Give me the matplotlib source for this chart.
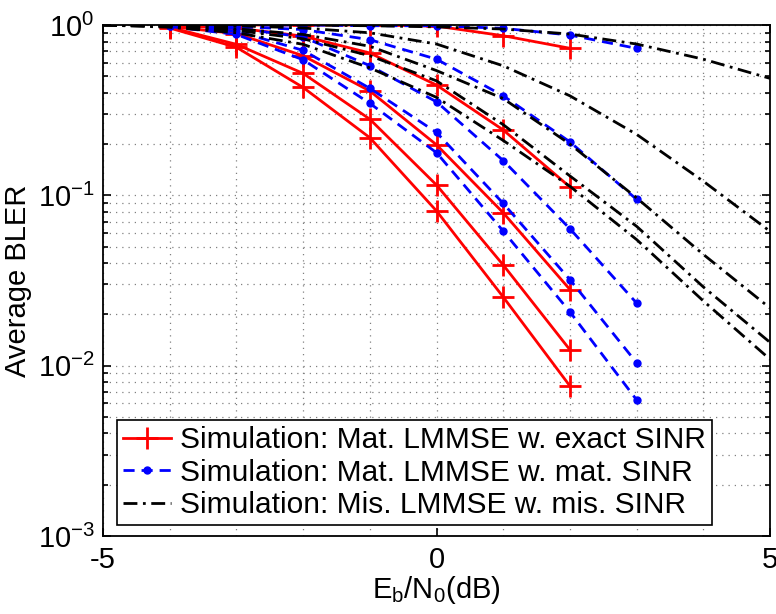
import numpy as np
import matplotlib
matplotlib.use("Agg")
import matplotlib.pyplot as plt
from matplotlib.ticker import LogLocator, MultipleLocator, FixedLocator

plt.rcParams['font.family'] = ['Liberation Sans', 'DejaVu Sans']
plt.rcParams['mathtext.fontset'] = 'custom'
plt.rcParams['mathtext.rm'] = 'Liberation Sans'
plt.rcParams['mathtext.it'] = 'Liberation Sans:italic'
plt.rcParams['mathtext.default'] = 'regular'
plt.rcParams['axes.unicode_minus'] = False

# Eb/N0 (dB) grids for each family of curves
x_red = [-4, -3, -2, -1, 0, 1, 2]
x_blue = [-4, -3, -2, -1, 0, 1, 2, 3]
x_black = [-5, -4, -3, -2, -1, 0, 1, 2, 3, 4, 5]

# Mat. LMMSE w. exact SINR (red, +)
red_1 = [0.96, 0.74, 0.43, 0.218, 0.081, 0.0253, 0.0076]
red_2 = [0.97, 0.77, 0.52, 0.28, 0.115, 0.039, 0.0124]
red_3 = [0.98, 0.89, 0.66, 0.41, 0.198, 0.079, 0.028]
red_4 = [0.99, 0.96, 0.86, 0.685, 0.444, 0.242, 0.112]
red_5 = [1.0, 1.0, 1.0, 1.0, 0.985, 0.865, 0.73]

# Mat. LMMSE w. mat. SINR (blue, dots)
blue_1 = [0.98, 0.88, 0.625, 0.347, 0.178, 0.0617, 0.0207, 0.0063]
blue_2 = [0.99, 0.92, 0.71, 0.425, 0.234, 0.0897, 0.032, 0.0104]
blue_3 = [0.995, 0.96, 0.85, 0.577, 0.354, 0.16, 0.0637, 0.0233]
blue_4 = [1.0, 0.98, 0.94, 0.82, 0.63, 0.384, 0.206, 0.0947]
blue_5 = [1.0, 1.0, 1.0, 0.99, 0.99, 0.956, 0.873, 0.729]

# Mis. LMMSE w. mis. SINR (black, dash-dot)
black_1 = [1.0, 0.97, 0.9, 0.77, 0.56, 0.376, 0.21, 0.113, 0.055, 0.024, 0.0109]
black_2 = [1.0, 0.98, 0.93, 0.83, 0.66, 0.47, 0.26, 0.13, 0.0658, 0.029, 0.0137]
black_3 = [1.0, 0.985, 0.95, 0.88, 0.75, 0.54, 0.37, 0.2, 0.0966, 0.045, 0.0218]
black_4 = [1.0, 1.0, 0.99, 0.96, 0.9, 0.773, 0.576, 0.384, 0.228, 0.121, 0.0615]
black_5 = [1.0, 1.0, 1.0, 1.0, 0.99, 0.975, 0.947, 0.885, 0.773, 0.63, 0.486]

labels = ["Simulation: Mat. LMMSE w. exact SINR",
          "Simulation: Mat. LMMSE w. mat. SINR",
          "Simulation: Mis. LMMSE w. mis. SINR"]

fig = plt.figure(figsize=(7.76, 6.14), dpi=100)
ax = fig.add_axes([103 / 776, 1 - 536 / 614, 667 / 776, 511 / 614])

handles = []
for i, y in enumerate([red_1, red_2, red_3, red_4, red_5]):
    h, = ax.semilogy(x_red, y, color='red', lw=2, marker='+', ms=16, mew=2)
    if i == 0:
        handles.append(h)
for i, y in enumerate([blue_1, blue_2, blue_3, blue_4, blue_5]):
    h, = ax.semilogy(x_blue, y, color='blue', lw=2, ls=(0, (4, 2.5)), marker='.', ms=10)
    if i == 0:
        handles.append(h)
for i, y in enumerate([black_1, black_2, black_3, black_4, black_5]):
    h, = ax.semilogy(x_black, y, color='black', lw=2, ls=(0, (5, 2, 1, 2)))
    if i == 0:
        handles.append(h)

ax.set_xlim(-5, 5)
ax.set_ylim(1e-3, 1)
ax.xaxis.set_major_locator(FixedLocator([-5, 0, 5]))
ax.xaxis.set_minor_locator(MultipleLocator(1))
ax.yaxis.set_major_locator(LogLocator(base=10))
ax.yaxis.set_minor_locator(LogLocator(base=10, subs=np.arange(2, 10)))

ax.grid(True, which='both', ls=(0, (1, 4)), color='0.5', lw=0.9)
ax.tick_params(which='both', direction='in', top=True, right=True, labelsize=21, width=1.2)
ax.tick_params(which='major', length=6)
ax.tick_params(which='minor', length=3.5)
ax.tick_params(axis='x', which='minor', length=0)
ax.tick_params(axis='x', pad=7)
ax.tick_params(axis='y', pad=6)
for s in ax.spines.values():
    s.set_linewidth(1.3)

ax.set_xlabel(r"E$_b$/N$_0$(dB)", fontsize=21, labelpad=0)
ax.set_ylabel("Average BLER", fontsize=21, labelpad=4)

leg = ax.legend(handles, labels, loc='lower left', bbox_to_anchor=(0.021, 0.021),
                borderaxespad=0, fontsize=21.5, fancybox=False, framealpha=1,
                edgecolor='black', handlelength=1.6, handletextpad=0.3,
                labelspacing=0.15, borderpad=0.2)
leg.get_frame().set_linewidth(1.2)

fig.savefig("out.png", dpi=100)
